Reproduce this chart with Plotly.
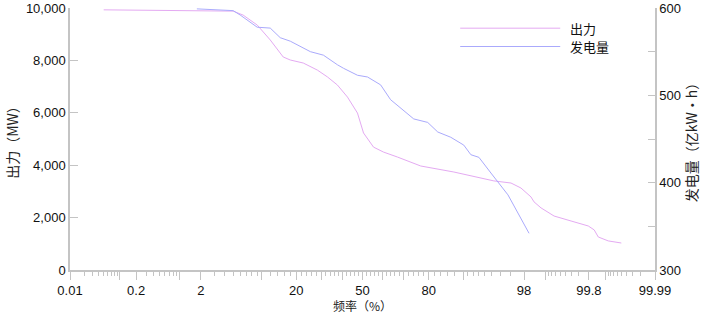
from statistics import NormalDist
import plotly.graph_objects as go

# ---- data ----
output_freq = [0.05, 0.5, 3.5, 5.0, 6.45, 9.03, 12.04, 15.67, 17.93, 22.57, 28.3, 32.78,
               37.49, 42.43, 47.45, 50.52, 55.57, 60.57, 67.22, 77.04, 87.72, 93.38,
               95.26, 97.05, 97.8, 98.39, 98.54, 98.84, 99.257, 99.60, 99.695, 99.795,
               99.839, 99.864, 99.911, 99.95]
output_mw = [9930, 9920, 9900, 9880, 9730, 9350, 8780, 8130, 8015, 7900, 7630, 7370,
             7060, 6600, 5990, 5230, 4690, 4500, 4310, 3970, 3740, 3510,
             3400, 3320, 3130, 2790, 2600, 2370, 2060, 1870, 1790, 1680,
             1530, 1260, 1110, 1030]

energy_freq = [1.76, 5.0, 5.99, 7.65, 9.03, 12.04, 13.92, 14.78, 17.93, 22.57, 25.37,
               30.96, 34.16, 37.49, 40.44, 47.45, 52.55, 59.1, 63.95, 68.62, 74.25,
               79.64, 83.07, 86.91, 88.72, 90.11, 91.59, 93.06, 94.88, 96.78, 98.29]
energy_val = [599, 597, 592, 584, 578, 577, 569, 566, 562, 554, 550,
              546, 540, 535, 531, 523, 521, 512, 495, 485, 473,
              469, 458, 452, 447, 443, 432, 429, 411, 386, 342]

series_names = ["出力", "发电量"]
series_colors = ["#e4aaf2", "#aaaafc"]

x_tick_labels = ["0.01", "0.2", "2", "20", "50", "80", "98", "99.8", "99.99"]
x_long_unlabeled = [0.1, 1, 10, 30, 40, 60, 70, 90, 99, 99.9]
y_ticks = [0, 2000, 4000, 6000, 8000, 10000]
y2_ticks = [300, 350, 400, 450, 500, 550, 600]
y2_labels = ["300", "", "400", "", "500", "", "600"]

nd = NormalDist()
def z(p):
    return nd.inv_cdf(p / 100.0)

# minor tick probabilities
minor_p = []
minor_p += [round(0.01 * i, 2) for i in range(2, 10)]
minor_p += [round(0.1 * i, 1) for i in range(3, 10)]
minor_p += [i for i in range(3, 10)]
minor_p += [12, 14, 16, 18]
minor_p += [i for i in range(22, 80, 2) if i % 10 != 0]
minor_p += [82, 84, 86, 88]
minor_p += [91, 92, 93, 94, 95, 96, 97]
minor_p += [round(99 + 0.1 * i, 1) for i in range(1, 8)]
minor_p += [round(99.9 + 0.01 * i, 2) for i in range(1, 9)]

major_p = [float(s) for s in x_tick_labels] + x_long_unlabeled
major_text = x_tick_labels + [""] * len(x_long_unlabeled)

axis_col = "#c4c4c4"
font_num = "Liberation Sans, Arial, sans-serif"
font_cjk = "Noto Sans CJK SC, sans-serif"

fig = go.Figure()
fig.add_trace(go.Scatter(
    x=[z(p) for p in output_freq], y=output_mw, mode="lines", name=series_names[0],
    line=dict(color=series_colors[0], width=1), yaxis="y"))
fig.add_trace(go.Scatter(
    x=[z(p) for p in energy_freq], y=energy_val, mode="lines", name=series_names[1],
    line=dict(color=series_colors[1], width=1), yaxis="y2"))

# hand-placed legend (paper coordinates)
shapes = []
annotations = []
leg_y = [0.923, 0.853]
for name, col, yy in zip(series_names, series_colors, leg_y):
    shapes.append(dict(type="line", xref="paper", yref="paper", x0=0.667, x1=0.838,
                       y0=yy, y1=yy, line=dict(color=col, width=1)))
    annotations.append(dict(xref="paper", yref="paper", x=0.853, y=yy, text=name,
                            showarrow=False, xanchor="left", yanchor="middle",
                            borderpad=0,
                            font=dict(family=font_cjk, size=13, color="#111")))

# x-axis title
annotations.append(dict(xref="paper", yref="paper", x=0.5, y=0, yshift=-35,
                        text="频率（%）", showarrow=False, xanchor="center",
                        yanchor="middle", borderpad=0,
                        font=dict(family=font_cjk, size=12, color="#222")))

zmax = z(99.99)
fig.update_layout(
    width=707, height=315,
    margin=dict(l=70, r=52, t=8, b=45, autoexpand=False),
    paper_bgcolor="white", plot_bgcolor="white",
    showlegend=False,
    shapes=shapes, annotations=annotations,
    xaxis=dict(range=[-zmax, zmax], tickmode="array", automargin=False,
               tickvals=[z(p) for p in major_p], ticktext=major_text,
               ticks="outside", ticklen=8, tickcolor=axis_col, tickwidth=1,
               ticklabelstandoff=0,
               showline=True, linecolor=axis_col, linewidth=1.5,
               showgrid=False, zeroline=False,
               tickfont=dict(family=font_num, size=13, color="#111"),
               minor=dict(tickmode="array", tickvals=[z(p) for p in minor_p],
                          ticks="outside", ticklen=4, tickcolor=axis_col, showgrid=False)),
    yaxis=dict(range=[0, 10000], tickmode="array", automargin=False,
               tickvals=y_ticks, tickformat=",d",
               ticks="inside", ticklen=8, tickcolor=axis_col,
               showline=True, linecolor=axis_col, linewidth=1.5,
               showgrid=False, zeroline=False,
               tickfont=dict(family=font_num, size=13, color="#111"),
               title=dict(text="出力（MW）", font=dict(family=font_cjk, size=14, color="#222"),
                          standoff=4)),
    yaxis2=dict(range=[300, 600], overlaying="y", side="right", tickmode="array",
                automargin=False,
                tickvals=y2_ticks, ticktext=y2_labels,
                ticks="inside", ticklen=7, tickcolor=axis_col,
                showline=True, linecolor=axis_col, linewidth=1.5,
                showgrid=False, zeroline=False,
                tickfont=dict(family=font_num, size=13, color="#111"),
                title=dict(text="发电量（亿kW•h）", font=dict(family=font_cjk, size=14, color="#222"),
                           standoff=7)),
)

fig.write_html("out.html", config={"displayModeBar": False},
               post_script="document.body.style.margin='0';")
